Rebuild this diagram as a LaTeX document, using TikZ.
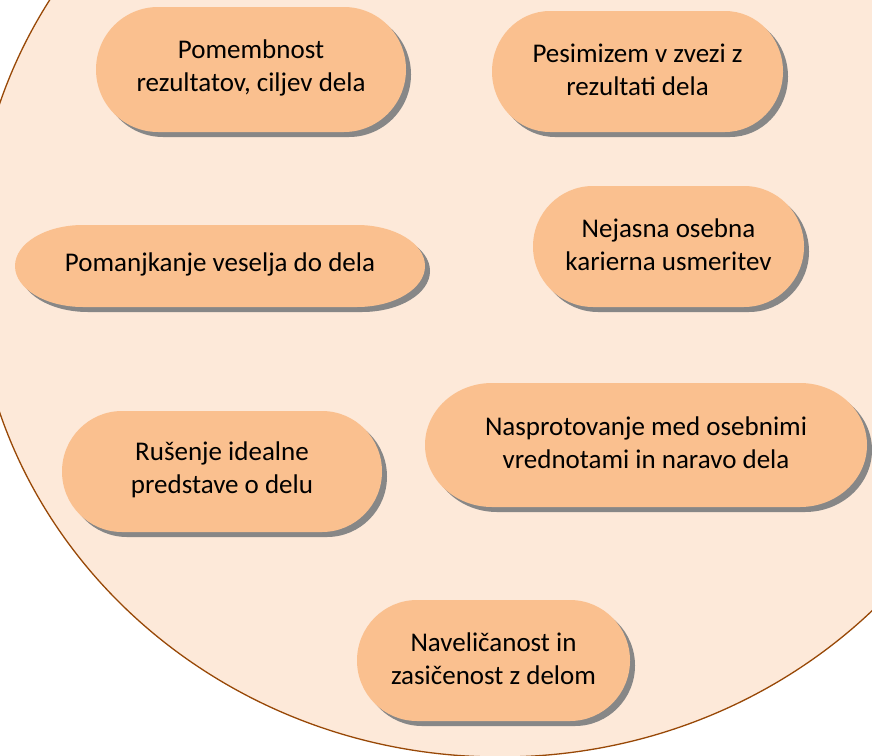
\documentclass[tikz,border=0pt]{standalone}
\usepackage{fontspec}
\setmainfont{Carlito}
\usepackage{tikz}
\usetikzlibrary{calc}

\definecolor{ovalfill}{HTML}{FDE9D9}
\definecolor{ovalline}{HTML}{984807}
\definecolor{pillcol}{HTML}{FAC08F}
\definecolor{shadowcol}{HTML}{878787}

% pill with half-ellipse ends: name, centre, width, height, end radius, text
\newcommand{\pill}[6]{%
  \begin{scope}[shift={(#2)}]
    \pgfmathsetmacro\hw{#3/2}\pgfmathsetmacro\hh{#4/2}
    \fill[pillshadow] (-\hw+#5,\hh) -- (\hw-#5,\hh)
      arc[start angle=90,end angle=-90,x radius=#5,y radius=\hh]
      -- (-\hw+#5,-\hh)
      arc[start angle=270,end angle=90,x radius=#5,y radius=\hh] -- cycle;
    \fill[pillbody] (-\hw+#5,\hh) -- (\hw-#5,\hh)
      arc[start angle=90,end angle=-90,x radius=#5,y radius=\hh]
      -- (-\hw+#5,-\hh)
      arc[start angle=270,end angle=90,x radius=#5,y radius=\hh] -- cycle;
    \node[pilltext] (#1) at (0,2) {#6};
  \end{scope}}

\begin{document}
\begin{tikzpicture}[x=1pt,y=1pt]
      % Styles
      \tikzset{oval/.style={fill=ovalfill,draw=ovalline,line width=1.3pt},
               pillbody/.style={fill=pillcol},
               pillshadow/.style={fill=shadowcol,shift={(5,-5)}},
               pilltext/.style={align=center,inner sep=0pt,
                 font=\fontsize{27}{33}\selectfont,text=black}}

      % Frame of the picture (the oval runs over its edges)
      \useasboundingbox (0,0) rectangle (872,-755);
      \clip (0,0) rectangle (872,-755);

      % Background oval
      \draw[oval] (500,-258) ellipse[x radius=526,y radius=499];

      % Top row
      \pill{pomembnost}{251,-69.5}{310}{125}{62}{Pomembnost\\rezultatov, ciljev dela}
      \pill{pesimizem}{637.5,-71.5}{291}{121}{58}{Pesimizem v zvezi z\\rezultati dela}

      % Middle row
      \pill{pomanjkanje}{220,-266}{410}{82}{68}{Pomanjkanje veselja do dela}
      \pill{nejasna}{668.5,-246.5}{271}{121}{60}{Nejasna osebna\\karierna usmeritev}

      % Lower row
      \pill{rusenje}{222,-471.5}{320}{121}{60}{Rušenje idealne\\predstave o delu}
      \pill{nasprotovanje}{646,-445}{442}{124}{67}{Nasprotovanje med osebnimi\\vrednotami in naravo dela}

      % Bottom
      \pill{navelicanost}{493.5,-660.5}{273}{121}{60}{Naveličanost in\\zasičenost z delom}
\end{tikzpicture}
\end{document}
